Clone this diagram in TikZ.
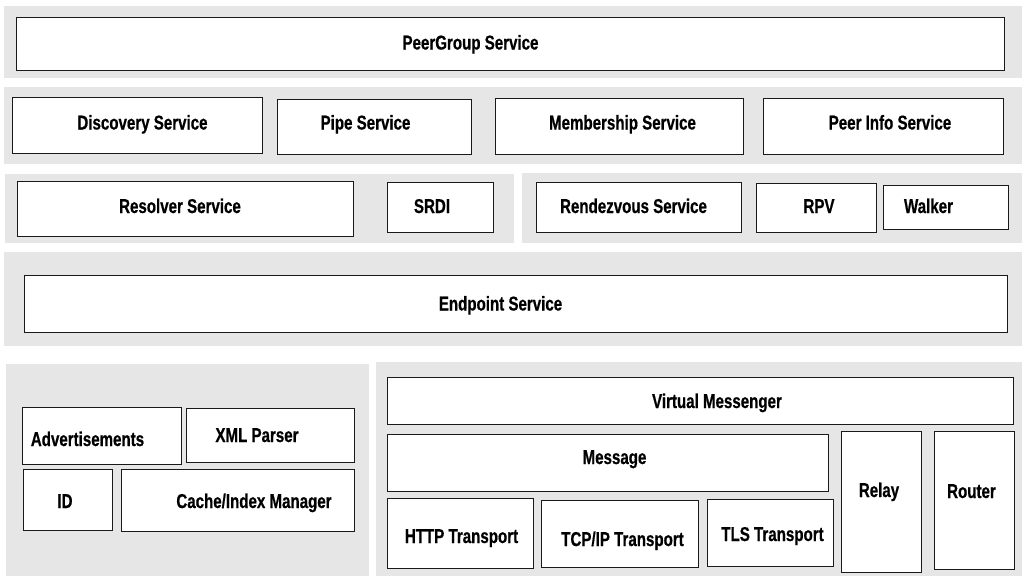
\documentclass[tikz,border=0pt]{standalone}
\usepackage{fontspec}
\setmainfont{Liberation Sans}[FakeStretch=0.755]
\newfontfamily\labelfont{Liberation Sans Bold}[FakeStretch=0.755, FakeBold=0.6]
\definecolor{bandgray}{RGB}{230,230,230}
\definecolor{boxline}{RGB}{25,25,25}
\tikzset{
  box/.style={draw=boxline, line width=1.3pt, fill=white, inner sep=0pt},
  lbl/.style={font=\labelfont\fontsize{20}{22}\selectfont, inner sep=0pt, anchor=base},
  band/.style={fill=bandgray}
}
% box from top-left (x1,y1) to bottom-right (x2,y2), in pixel units
\newcommand\boxat[5]{%
  \node[box, anchor=north west, minimum width={(#4-#2)*1pt}, minimum height={(#5-#3)*1pt}] (#1) at (#2,#3) {};}
\begin{document}
\begin{tikzpicture}[x=1pt,y=-1pt]
\useasboundingbox (0,0) rectangle (1026,576);
% layer bands
\fill[band] (4,6) rectangle (1022,78);
\fill[band] (4,87) rectangle (1022,164);
\fill[band] (5,174) rectangle (514,243);
\fill[band] (522,173) rectangle (1022,243);
\fill[band] (4,252) rectangle (1022,346);
\fill[band] (6,364) rectangle (369,576);
\fill[band] (376,362) rectangle (1022,576);

% peer group layer
\boxat{pg}{16}{17}{1004}{70}
\node[lbl] (pg-t) at (470.5,49.5) {PeerGroup Service};

% core services
\boxat{disc}{12}{97}{262}{153}
\boxat{pipe}{277}{99}{471}{154}
\boxat{memb}{495}{98}{743}{154}
\boxat{pinfo}{763}{98}{1003}{154}
\node[lbl] (disc-t) at (142.5,129.5) {Discovery Service};
\node[lbl] (pipe-t) at (365.5,129.5) {Pipe Service};
\node[lbl] (memb-t) at (622.5,129.5) {Membership Service};
\node[lbl] (pinfo-t) at (890,129.5) {Peer Info Service};

% resolver and rendezvous
\boxat{res}{17}{181}{353}{236}
\boxat{srdi}{387}{182}{493}{232}
\boxat{rdv}{536}{182}{741}{232}
\boxat{rpv}{756}{183}{876}{232}
\boxat{walk}{883}{185}{1008}{229}
\node[lbl] (res-t) at (180,213) {Resolver Service};
\node[lbl] (srdi-t) at (432,213) {SRDI};
\node[lbl] (rdv-t) at (633.5,213) {Rendezvous Service};
\node[lbl] (rpv-t) at (819,213) {RPV};
\node[lbl] (walk-t) at (928.5,213) {Walker};

% endpoint
\boxat{ep}{24}{275}{1007}{332}
\node[lbl] (ep-t) at (500.5,310.5) {Endpoint Service};

% utilities
\boxat{adv}{22}{407}{181}{464}
\boxat{xml}{186}{408}{354}{462}
\boxat{id}{23}{469}{112}{530}
\boxat{cache}{121}{469}{354}{531}
\node[lbl] (adv-t) at (87.5,446) {Advertisements};
\node[lbl] (xml-t) at (257,442) {XML Parser};
\node[lbl] (id-t) at (65,508) {ID};
\node[lbl] (cache-t) at (254,508) {Cache/Index Manager};

% messaging and transports
\boxat{vm}{387}{377}{1013}{424}
\boxat{msg}{387}{434}{828}{491}
\boxat{http}{387}{498}{533}{568}
\boxat{tcp}{541}{500}{698}{567}
\boxat{tls}{707}{499}{833}{566}
\boxat{relay}{841}{431}{921}{572}
\boxat{router}{934}{431}{1014}{569}
\node[lbl] (vm-t) at (717,408) {Virtual Messenger};
\node[lbl] (msg-t) at (614.5,464) {Message};
\node[lbl] (http-t) at (461.5,543) {HTTP Transport};
\node[lbl] (tcp-t) at (622.5,546) {TCP/IP Transport};
\node[lbl] (tls-t) at (772.5,541) {TLS Transport};
\node[lbl] (relay-t) at (879,497) {Relay};
\node[lbl] (router-t) at (971.5,498) {Router};
\end{tikzpicture}
\end{document}
